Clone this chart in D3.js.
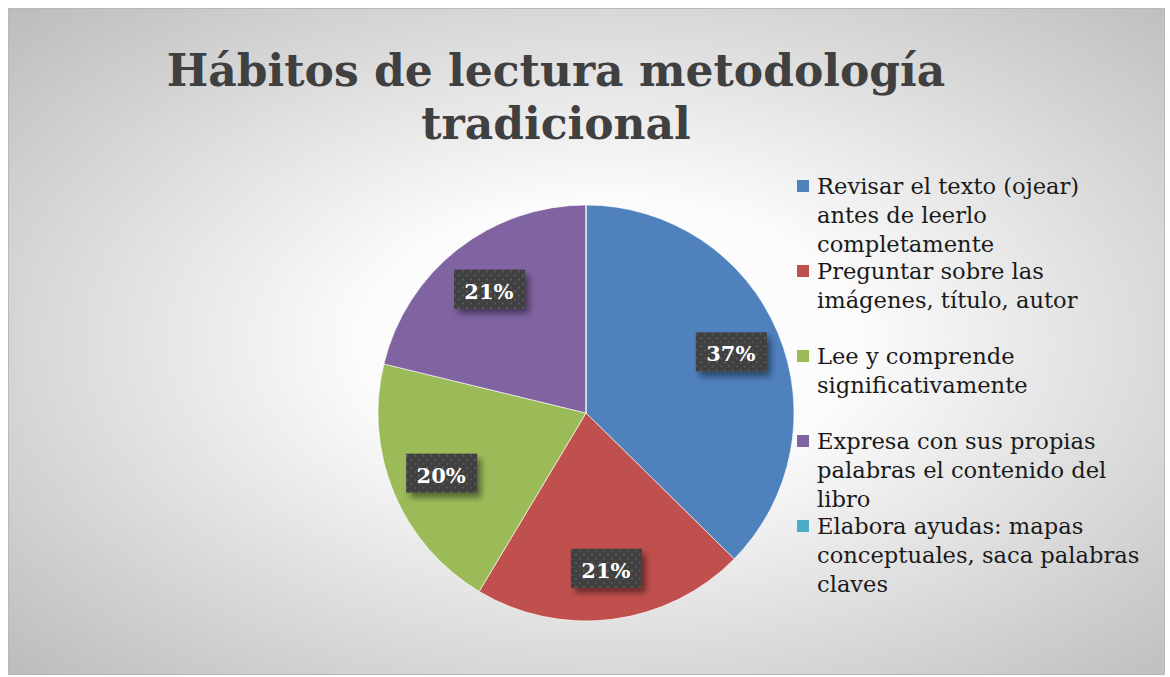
<!DOCTYPE html>
<html>
<head>
<meta charset="utf-8">
<script src="https://cdn.jsdelivr.net/npm/d3@7"></script>
<style>
  body { margin: 0; background: #fff; }
  svg { display: block; }
</style>
</head>
<body>
<svg id="chart"></svg>
<script>
// Data
const titleLines = ["Hábitos de lectura metodología", "tradicional"];
const categories = [
    ["Revisar el texto (ojear)", "antes de leerlo", "completamente"],
    ["Preguntar sobre las", "imágenes, título, autor"],
    ["Lee y comprende", "significativamente"],
    ["Expresa con sus propias", "palabras el contenido del", "libro"],
    ["Elabora ayudas: mapas", "conceptuales, saca palabras", "claves"]
];
const values = [37, 21, 20, 21, 0];
const colors = ["#4F81BD", "#C0504D", "#9BBB59", "#8064A2", "#4BACC6"];

const width = 1170, height = 677;
const font = "'DejaVu Serif', serif";
const svg = d3.select("#chart").attr("width", width).attr("height", height);
const defs = svg.append("defs");

// background gradient
const grad = defs.append("radialGradient").attr("id", "bg")
    .attr("cx", "52%").attr("cy", "50%").attr("r", "72%");
grad.append("stop").attr("offset", "0%").attr("stop-color", "#ffffff");
grad.append("stop").attr("offset", "30%").attr("stop-color", "#fbfbfb");
grad.append("stop").attr("offset", "100%").attr("stop-color", "#bcbcbc");

// dotted pattern for the data labels
const pat = defs.append("pattern").attr("id", "dots")
    .attr("width", 8).attr("height", 8).attr("patternUnits", "userSpaceOnUse");
pat.append("rect").attr("width", 8).attr("height", 8).attr("fill", "#3f3f3f");
pat.append("rect").attr("x", 1).attr("y", 1).attr("width", 2).attr("height", 2).attr("fill", "#5c5c5c");
pat.append("rect").attr("x", 5).attr("y", 5).attr("width", 2).attr("height", 2).attr("fill", "#555555");

const shadow = defs.append("filter").attr("id", "shadow")
    .attr("x", "-30%").attr("y", "-30%").attr("width", "170%").attr("height", "170%");
shadow.append("feDropShadow").attr("dx", 4).attr("dy", 5).attr("stdDeviation", 3)
    .attr("flood-color", "#000").attr("flood-opacity", 0.45);

svg.append("rect")
    .attr("x", 8.5).attr("y", 8.5).attr("width", 1156).attr("height", 666)
    .attr("fill", "url(#bg)").attr("stroke", "#b8b8b8").attr("stroke-width", 1);

// title
svg.append("text")
    .attr("x", 556).attr("y", 86)
    .attr("text-anchor", "middle")
    .attr("font-family", font)
    .attr("font-weight", "bold")
    .attr("font-size", "44px")
    .attr("fill", "#404040")
    .selectAll("tspan")
    .data(titleLines)
    .enter().append("tspan")
    .attr("x", 556)
    .attr("dy", (d, i) => i === 0 ? 0 : 53)
    .text(d => d);

// pie
const cx = 586, cy = 413, radius = 208;
const pie = d3.pie().sort(null).value(d => d)(values);
const arc = d3.arc().innerRadius(0).outerRadius(radius);
const labelArc = d3.arc().innerRadius(157).outerRadius(157);

const g = svg.append("g").attr("transform", `translate(${cx},${cy})`);

g.selectAll("path")
    .data(pie)
    .enter().append("path")
    .attr("d", arc)
    .attr("fill", (d, i) => colors[i])
    .attr("stroke", "#ffffff")
    .attr("stroke-opacity", 0.6)
    .attr("stroke-width", 1);

// data labels
const labels = g.selectAll("g.lbl")
    .data(pie.filter(d => d.value > 0))
    .enter().append("g")
    .attr("class", "lbl")
    .attr("transform", d => {
        const [x, y] = labelArc.centroid(d);
        return `translate(${x},${y})`;
    });

labels.append("rect")
    .attr("x", -35).attr("y", -20).attr("width", 71).attr("height", 39)
    .attr("fill", "url(#dots)")
    .attr("filter", "url(#shadow)");

labels.append("text")
    .attr("text-anchor", "middle")
    .attr("y", 9)
    .attr("font-family", font)
    .attr("font-weight", "bold")
    .attr("font-size", "21px")
    .attr("fill", "#ffffff")
    .text(d => d.value + "%");

// legend
const legendY = d3.scalePoint().domain(d3.range(categories.length)).range([186, 526]);
const legend = svg.append("g");
const items = legend.selectAll("g")
    .data(categories)
    .enter().append("g")
    .attr("transform", (d, i) => `translate(797,${legendY(i)})`);

items.append("rect")
    .attr("x", 0).attr("y", -6).attr("width", 12).attr("height", 12)
    .attr("fill", (d, i) => colors[i]);

items.append("text")
    .attr("font-family", font)
    .attr("font-size", "22.6px")
    .attr("fill", "#1a1a1a")
    .selectAll("tspan")
    .data(d => d)
    .enter().append("tspan")
    .attr("x", 20)
    .attr("y", (d, i) => 8 + i * 29)
    .text(d => d);
</script>
</body>
</html>
